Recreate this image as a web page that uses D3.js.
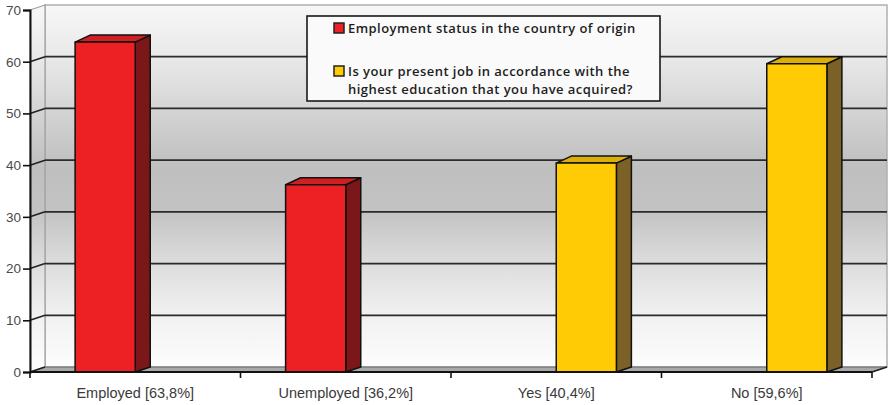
<!DOCTYPE html>
<html>
<head>
<meta charset="utf-8">
<script src="https://cdn.jsdelivr.net/npm/d3@7"></script>
<style>
  body { margin: 0; background: #fff; }
  svg { display: block; }
</style>
</head>
<body>
<div id="chart"></div>
<script>
const width = 889;
const height = 405;

const categories = ["Employed [63,8%]", "Unemployed [36,2%]", "Yes [40,4%]", "No [59,6%]"];
const seriesNames = [
    "Employment status in the country of origin",
    "Is your present job in accordance with the highest education that you have acquired?"
];
const employmentValues = [63.8, 36.2, null, null];
const educationMatchValues = [null, null, 40.4, 59.6];
const yTicks = [0, 10, 20, 30, 40, 50, 60, 70];

// face colours per series: front, top, side
const faces = [
    { front: "#ed2124", top: "#cf1f22", side: "#7c1719" },
    { front: "#ffcb05", top: "#dcae0a", side: "#7b6127" }
];

// 3d offsets: wall depth and bar depth
const wallDx = 15, wallDy = 5;
const barDx = 15, barDy = 7;

const x = d3.scaleBand().domain(categories).range([30, 872]);
const xs = d3.scaleBand().domain([0, 1]).range([0, x.bandwidth()]).paddingOuter(0.75);
const y = d3.scaleLinear().domain([0, 70]).range([372, 10]);

const rows = [];
categories.forEach((c, i) => {
    [employmentValues[i], educationMatchValues[i]].forEach((v, s) => {
        if (v != null) rows.push({ category: c, series: s, value: v });
    });
});

const svg = d3.select("#chart")
    .append("svg")
    .attr("width", width)
    .attr("height", height)
    .attr("font-family", "'Open Sans', sans-serif");

const defs = svg.append("defs");
const grad = defs.append("linearGradient")
    .attr("id", "wall")
    .attr("gradientUnits", "userSpaceOnUse")
    .attr("x1", 0).attr("x2", 0)
    .attr("y1", y(70) - wallDy).attr("y2", y(0) - wallDy);
[[0, "#f7f7f7"], [0.15, "#e8e8e8"], [0.28, "#d6d6d6"], [0.45, "#bfbfbf"], [0.57, "#c3c3c3"],
 [0.71, "#dcdcdc"], [0.85, "#f0f0f0"], [1, "#fdfdfd"]].forEach(([o, c]) => {
    grad.append("stop").attr("offset", o).attr("stop-color", c);
});

const x0 = x.range()[0], x1 = x.range()[1];
const wallRight = x1 + wallDx;

// back wall
svg.append("rect")
    .attr("x", x0 + wallDx)
    .attr("y", y(70) - wallDy)
    .attr("width", wallRight - x0 - wallDx)
    .attr("height", y(0) - y(70))
    .attr("fill", "url(#wall)")
    .attr("stroke", "#b0b0b0")
    .attr("stroke-width", 1.5);

// left wall
svg.append("path")
    .attr("d", `M${x0},${y(70)}L${x0 + wallDx},${y(70) - wallDy}L${x0 + wallDx},${y(0) - wallDy}L${x0},${y(0)}Z`)
    .attr("fill", "url(#wall)")
    .attr("stroke", "#a0a0a0")
    .attr("stroke-width", 1.2);

// floor
svg.append("path")
    .attr("d", `M${x0},${y(0)}L${x0 + wallDx},${y(0) - wallDy}L${wallRight},${y(0) - wallDy}L${x1},${y(0)}Z`)
    .attr("fill", "#a9a9a9")
    .attr("stroke", "#666")
    .attr("stroke-width", 1);

// gridlines on back wall, and the slanted links on the side wall
svg.append("g")
    .selectAll("line")
    .data(yTicks.filter(t => t > 0 && t < 70))
    .join("line")
    .attr("x1", x0 + wallDx)
    .attr("x2", wallRight)
    .attr("y1", d => y(d) - wallDy)
    .attr("y2", d => y(d) - wallDy)
    .attr("stroke", "#2b2b2b")
    .attr("stroke-width", 1.8);

svg.append("g")
    .selectAll("line")
    .data(yTicks.filter(t => t < 70))
    .join("line")
    .attr("x1", x0)
    .attr("x2", x0 + wallDx)
    .attr("y1", d => y(d))
    .attr("y2", d => y(d) - wallDy)
    .attr("stroke", "#222")
    .attr("stroke-width", 1.6);

// bars
const bar = svg.append("g")
    .attr("stroke", "#111")
    .attr("stroke-width", 1.5)
    .attr("stroke-linejoin", "round")
    .selectAll("g")
    .data(rows)
    .join("g");

bar.append("path")
    .attr("fill", d => faces[d.series].side)
    .attr("d", d => {
        const r = x(d.category) + xs(d.series) + xs.bandwidth();
        return `M${r},${y(d.value)}L${r + barDx},${y(d.value) - barDy}L${r + barDx},${y(0) - wallDy}L${r},${y(0)}Z`;
    });

bar.append("path")
    .attr("fill", d => faces[d.series].top)
    .attr("d", d => {
        const l = x(d.category) + xs(d.series), r = l + xs.bandwidth(), t = y(d.value);
        return `M${l},${t}L${l + barDx},${t - barDy}L${r + barDx},${t - barDy}L${r},${t}Z`;
    });

bar.append("rect")
    .attr("fill", d => faces[d.series].front)
    .attr("x", d => x(d.category) + xs(d.series))
    .attr("y", d => y(d.value))
    .attr("width", xs.bandwidth())
    .attr("height", d => y(0) - y(d.value));

// y axis
const yAxis = svg.append("g")
    .attr("transform", `translate(${x0},0)`)
    .call(d3.axisLeft(y).tickValues(yTicks).tickSize(7).tickPadding(2));
yAxis.select(".domain").attr("stroke", "#111").attr("stroke-width", 2);
yAxis.selectAll(".tick line").attr("stroke", "#111").attr("stroke-width", 1.6);
yAxis.selectAll(".tick text")
    .attr("fill", "#4a4a4a")
    .attr("font-size", 13.5);

// x axis: labels at band centres, ticks at band edges
const xAxis = svg.append("g")
    .attr("transform", `translate(0,${y(0)})`)
    .call(d3.axisBottom(x).tickSize(0).tickPadding(16));
xAxis.select(".domain").remove();
xAxis.selectAll(".tick text")
    .attr("fill", "#3a3a3a")
    .attr("font-size", 14.5);

svg.append("line")
    .attr("x1", x0).attr("x2", x1)
    .attr("y1", y(0)).attr("y2", y(0))
    .attr("stroke", "#111")
    .attr("stroke-width", 2);

svg.append("g")
    .selectAll("line")
    .data(categories.map(c => x(c)).concat([x1]))
    .join("line")
    .attr("x1", d => d).attr("x2", d => d)
    .attr("y1", y(0)).attr("y2", y(0) + 6)
    .attr("stroke", "#111")
    .attr("stroke-width", 1.6);

svg.append("line")
    .attr("x1", x1).attr("x2", wallRight)
    .attr("y1", y(0)).attr("y2", y(0) - wallDy)
    .attr("stroke", "#222")
    .attr("stroke-width", 1.4);

// legend
const legend = svg.append("g")
    .attr("transform", "translate(307,16)");

legend.append("rect")
    .attr("width", 353)
    .attr("height", 85)
    .attr("fill", "#fafafa")
    .attr("stroke", "#1a1a1a")
    .attr("stroke-width", 1.6);

const legendRows = seriesNames.map((name, i) => ({ lines: wrap(name, 44), series: i }));
let ly = 7;
legendRows.forEach(row => {
    const item = legend.append("g").attr("transform", `translate(27,${ly})`);
    item.append("rect")
        .attr("width", 10)
        .attr("height", 10)
        .attr("fill", faces[row.series].front)
        .attr("stroke", "#222")
        .attr("stroke-width", 1.5);
    item.selectAll("text")
        .data(row.lines)
        .join("text")
        .attr("fill", "#1e1e1e")
        .attr("font-size", 13)
        .attr("font-weight", 600)
        .attr("letter-spacing", 0.45)
        .attr("x", 14)
        .attr("y", (d, i) => 10 + i * 18)
        .text(d => d);
    ly += 43;
});

function wrap(text, maxChars) {
    const lines = [];
    let cur = "";
    text.split(" ").forEach(w => {
        if (cur && (cur + " " + w).length > maxChars) {
            lines.push(cur);
            cur = w;
        } else {
            cur = cur ? cur + " " + w : w;
        }
    });
    if (cur) lines.push(cur);
    return lines;
}
</script>
</body>
</html>
